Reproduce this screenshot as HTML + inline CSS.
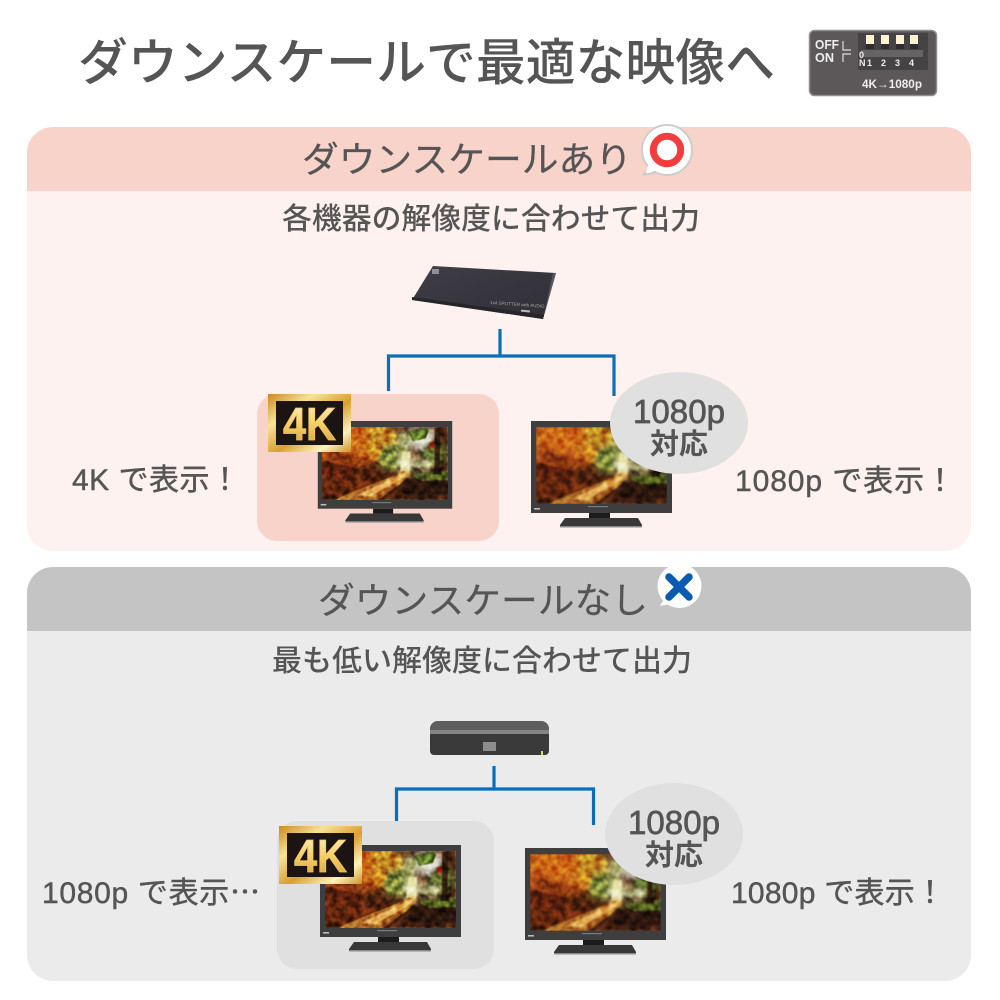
<!DOCTYPE html>
<html lang="ja"><head><meta charset="utf-8"><title>ダウンスケールで最適な映像へ</title>
<style>html,body{margin:0;padding:0;background:#fff}svg{display:block}
text{font-family:"Liberation Sans","Noto Sans CJK JP",sans-serif;fill:#555}
.j{font-family:"Liberation Sans","Noto Sans CJK JP",sans-serif;font-weight:500}
.h{font-family:"Liberation Sans","Noto Sans CJK JP",sans-serif;font-weight:400;stroke:#555;stroke-width:.25}
.s{font-family:"Liberation Sans","Noto Sans CJK JP",sans-serif;font-weight:400;stroke:#555;stroke-width:.45}
.n{font-family:"Liberation Sans",sans-serif;font-weight:400;stroke:#555;stroke-width:.7}
.d{font-family:"Liberation Sans","DejaVu Sans",sans-serif;font-weight:700;fill:#eee}</style></head><body>
<svg width="1000" height="1000" viewBox="0 0 1000 1000" xmlns="http://www.w3.org/2000/svg">
<defs>
<filter id="b2" x="-30%" y="-30%" width="160%" height="160%"><feGaussianBlur stdDeviation="3.500"/></filter>
<filter id="soft" x="0" y="0" width="100%" height="100%"><feGaussianBlur stdDeviation=".7"/></filter>
<filter id="tex" x="0" y="0" width="100%" height="100%" color-interpolation-filters="sRGB">
<feGaussianBlur in="SourceGraphic" stdDeviation=".6" result="s"/>
<feTurbulence type="fractalNoise" baseFrequency=".14" numOctaves="2" seed="7"/>
<feColorMatrix values="1.100 0 0 0 -.05  1.100 0 0 0 -.05  1.100 0 0 0 -.05  0 0 0 0 1" result="n"/>
<feBlend in="n" in2="s" mode="overlay"/>
</filter>
<linearGradient id="gold" x1="0" y1="0" x2="1" y2="1"><stop offset="0" stop-color="#c88a1e"/><stop offset=".28" stop-color="#f8e294"/><stop offset=".55" stop-color="#d9a030"/><stop offset=".8" stop-color="#fff2bb"/><stop offset="1" stop-color="#cc9228"/></linearGradient>
<linearGradient id="gold2" x1="0" y1="0" x2="0" y2="1"><stop offset="0" stop-color="#fff6cc"/><stop offset=".5" stop-color="#f6cf68"/><stop offset="1" stop-color="#d29a30"/></linearGradient>
<linearGradient id="sp" x1="0" y1="0" x2="1" y2="1"><stop offset="0" stop-color="#3f3d45"/><stop offset="1" stop-color="#312f36"/></linearGradient>
<clipPath id="fc"><rect width="131" height="77"/></clipPath>
<clipPath id="c2"><rect x="536" y="427" width="131" height="77"/></clipPath>
<clipPath id="c4"><rect x="530" y="854" width="131" height="77"/></clipPath>
<symbol id="forest" viewBox="0 0 131 77" preserveAspectRatio="none" overflow="hidden">
<g clip-path="url(#fc)"><g filter="url(#tex)">
<rect width="131" height="77" fill="#4a2210"/>
<g filter="url(#b2)">
<rect x="-10" y="-10" width="80" height="50" fill="#b04e14"/>
<ellipse cx="30" cy="10" rx="28" ry="14" fill="#cc6616"/>
<ellipse cx="62" cy="10" rx="16" ry="12" fill="#c08420"/>
<ellipse cx="72" cy="32" rx="15" ry="14" fill="#7e8a3a"/>
<ellipse cx="103" cy="12" rx="15" ry="11" fill="#f2f0e4"/>
<ellipse cx="86" cy="14" rx="8" ry="10" fill="#a4a868"/>
<ellipse cx="87" cy="36" rx="7" ry="13" fill="#e0dfa8"/>
<ellipse cx="116" cy="28" rx="14" ry="14" fill="#5f6e2a"/>
<ellipse cx="104" cy="40" rx="12" ry="6" fill="#b0b07a"/>
<ellipse cx="14" cy="44" rx="24" ry="12" fill="#5e2410"/>
<ellipse cx="30" cy="64" rx="36" ry="12" fill="#64260f"/>
<ellipse cx="108" cy="62" rx="30" ry="13" fill="#2a190b"/>
</g>
<path d="M14 77 C42 62 70 56 84 46 L94 46 C88 56 74 66 58 77Z" fill="#b06c26"/>
<path d="M36 72 C56 62 72 56 86 47 L91 47 C82 57 66 64 50 73Z" fill="#e4b058"/>
<path d="M81 47 L84 26 L92 26 L91 47Z" fill="#ece8b4" opacity=".85"/>
<path d="M92 50 L131 46 L131 56 L104 57Z" fill="#55621f"/>
<path d="M117 0h6l-.5 42 2 8h-9l1.500-8Z" fill="#2c1b0f"/>
<path d="M90 4 L112 0 L108 12 L94 15Z" fill="#5c7428"/>
<path d="M112 16 L118 14 L117 22 L111 24Z" fill="#a83a1a"/>
<path d="M38 16 L62 24 L56 36 L42 30Z" fill="#c77a1c"/>
<path d="M2 22 L28 30 L22 40 L4 36Z" fill="#8d3812"/>
</g></g>
</symbol>
<symbol id="tv" viewBox="0 0 141 107" overflow="visible">
<rect x="0" y="0" width="141" height="92" fill="#3e3e3e"/>
<rect x="57" y="85" width="20" height="1.200" fill="#7a7a7a"/>
<rect x="3" y="87" width="6" height="1.600" fill="#bbb"/>
<rect x="58" y="92" width="21" height="5" fill="#1c1c1c"/>
<path d="M34 97 H107 L111 104 V106 H29 V104Z" fill="#383838"/>
<rect x="29" y="105" width="82" height="1.500" fill="#8a8a8a"/>
</symbol>
<symbol id="badge" viewBox="0 0 83 58" overflow="visible">
<rect width="83" height="58" fill="url(#gold)"/>
<rect x="8" y="7" width="67" height="44" fill="#1c1412"/>
<text x="15" y="46" font-size="46" font-weight="700" textLength="53" lengthAdjust="spacingAndGlyphs" style="font-family:'Liberation Sans',sans-serif;fill:url(#gold2);stroke:#f2c862;stroke-width:.8">4K</text>
</symbol>
</defs>

<rect width="1000" height="1000" fill="#fff"/>
<text class="j" x="78" y="80" font-size="50" textLength="697" lengthAdjust="spacingAndGlyphs">ダウンスケールで最適な映像へ</text>

<!-- DIP switch -->
<rect x="809.500" y="30.500" width="127" height="65" rx="5" fill="#5c585a" stroke="#908d8e" stroke-width="1.500"/>
<rect x="858" y="33" width="70" height="37" fill="#454344"/>
<rect x="861" y="50" width="62" height="7" fill="#666465"/>
<g fill="#fff3cf"><rect x="866" y="35" width="8" height="9"/><rect x="881" y="35" width="8" height="9"/><rect x="896" y="35" width="8" height="9"/><rect x="910" y="35" width="8" height="9"/></g>
<g fill="#2e2c2d"><rect x="866" y="44" width="8" height="5"/><rect x="881" y="44" width="8" height="5"/><rect x="896" y="44" width="8" height="5"/><rect x="910" y="44" width="8" height="5"/></g>
<text class="d" x="815" y="49" font-size="12.500" textLength="24" lengthAdjust="spacingAndGlyphs">OFF</text>
<text class="d" x="815" y="62" font-size="12.500" textLength="19" lengthAdjust="spacingAndGlyphs">ON</text>
<path d="M843 41v9h8M851 54h-8v8" fill="none" stroke="#ddd" stroke-width="1.200"/>
<text class="d" x="859" y="58" font-size="9">0</text>
<text class="d" x="859" y="66" font-size="9">N</text>
<text class="d" x="867" y="66" font-size="9">1</text>
<text class="d" x="881" y="66" font-size="9">2</text>
<text class="d" x="895" y="66" font-size="9">3</text>
<text class="d" x="909" y="66" font-size="9">4</text>
<text class="d" x="862" y="88" font-size="12" textLength="60" lengthAdjust="spacingAndGlyphs">4K→1080p</text>

<!-- Top panel -->
<rect x="27" y="127" width="944" height="424" rx="26" fill="#fdf2ef"/>
<path d="M27 191V153a26 26 0 0 1 26-26H945a26 26 0 0 1 26 26V191Z" fill="#f8d3ca"/>
<text class="h" x="302" y="172" font-size="36" textLength="330" lengthAdjust="spacingAndGlyphs">ダウンスケールあり</text>
<path d="M650 168 L643 175 L658 172Z" fill="#fff" stroke="#cdcdcd" stroke-width="2" stroke-linejoin="round"/>
<circle cx="667" cy="150" r="25" fill="#fff" stroke="#cdcdcd" stroke-width="2"/>
<path d="M648 165 L646 173 L658 170Z" fill="#fff"/>
<circle cx="667" cy="150" r="13.700" fill="none" stroke="#f23d3d" stroke-width="7"/>
<text class="j" x="282" y="229" font-size="30" textLength="418" lengthAdjust="spacingAndGlyphs">各機器の解像度に合わせて出力</text>

<!-- splitter -->
<path d="M433 266 L556 273 L543 319 L412 300Z" fill="url(#sp)"/>
<path d="M412 297 L412 300 L543 319 L544 315Z" fill="#26252a"/>
<path d="M544 315 L553 273 L556 273 L543 319Z" fill="#5a585f"/>
<rect x="432" y="269" width="7" height="5" fill="#c8c8c8" opacity=".6"/>
<text x="490" y="304" font-size="4.500" transform="rotate(4 490 304)" style="fill:#aaa;font-family:'Liberation Sans',sans-serif">1x4 SPLITTER with AUDIO</text>
<rect x="521" y="310" width="9" height="2" fill="#bbb" transform="rotate(6 525 311)"/>

<!-- connectors top -->
<path d="M500 329V356M388.500 391V356H614V396" fill="none" stroke="#0a6ebd" stroke-width="3.200"/>

<rect x="257" y="394" width="242" height="147" rx="20" fill="#f8d3ca"/>
<use href="#tv" x="317" y="421" width="136" height="102"/>
<use href="#forest" x="322" y="427" width="126" height="73"/>
<use href="#badge" x="268" y="394" width="83" height="58"/>

<use href="#tv" x="531" y="421" width="141" height="107"/>
<g clip-path="url(#c2)"><use href="#forest" x="536" y="427" width="131" height="77" filter="url(#soft)"/></g>
<ellipse cx="679" cy="423" rx="69" ry="51" fill="#e0e0e0"/>
<text class="n" x="633" y="423" font-size="33" textLength="92" lengthAdjust="spacingAndGlyphs">1080p</text>
<text class="j" x="650" y="454" font-size="29" textLength="58" lengthAdjust="spacingAndGlyphs" style="font-weight:700">対応</text>
<text class="s" x="72" y="490" font-size="30" textLength="168" lengthAdjust="spacing">4K で表示！</text>
<text class="s" x="735" y="491" font-size="30" textLength="220" lengthAdjust="spacing">1080p で表示！</text>

<!-- Bottom panel -->
<rect x="27" y="567" width="944" height="414" rx="26" fill="#ebebeb"/>
<path d="M27 631V593a26 26 0 0 1 26-26H945a26 26 0 0 1 26 26V631Z" fill="#c4c4c4"/>
<text class="h" x="318" y="613" font-size="36" textLength="330" lengthAdjust="spacingAndGlyphs">ダウンスケールなし</text>
<circle cx="679.500" cy="586" r="22" fill="#fff"/>
<path d="M663 601 L660 606 L670 604Z" fill="#fff"/>
<path d="M669 577 L689 597M689 577 L669 597" stroke="#0b5cb0" stroke-width="7.500" stroke-linecap="round"/>
<text class="j" x="272" y="671" font-size="30" textLength="420" lengthAdjust="spacingAndGlyphs">最も低い解像度に合わせて出力</text>

<!-- box device -->
<path d="M430 729 a8 8 0 0 1 8-8 H541 a8 8 0 0 1 8 8 V751 a4 4 0 0 1-4 4 H434 a4 4 0 0 1-4-4Z" fill="#3a3a3a"/>
<path d="M430 730 V729 a8 8 0 0 1 8-8 H541 a8 8 0 0 1 8 8 V730Z" fill="#5e5e5e"/>
<rect x="430" y="730" width="119" height="4" fill="#858585"/>
<rect x="483" y="742" width="13" height="9" fill="#8c8c8c"/>
<rect x="541" y="751" width="2" height="4" fill="#d8d860"/>

<path d="M494 766V789M396.500 821V789H593.500V825" fill="none" stroke="#0a6ebd" stroke-width="3.200"/>

<rect x="277" y="821" width="217" height="148" rx="20" fill="#e0e0e0"/>
<use href="#tv" x="320" y="845" width="141" height="107"/>
<use href="#forest" x="325" y="851" width="131" height="77"/>
<use href="#badge" x="279" y="826" width="83" height="58"/>

<use href="#tv" x="525" y="848" width="141" height="107"/>
<g clip-path="url(#c4)"><use href="#forest" x="530" y="854" width="131" height="77" filter="url(#soft)"/></g>
<ellipse cx="674" cy="834" rx="69" ry="51" fill="#e0e0e0"/>
<text class="n" x="628" y="834" font-size="33" textLength="92" lengthAdjust="spacingAndGlyphs">1080p</text>
<text class="j" x="645" y="865" font-size="29" textLength="58" lengthAdjust="spacingAndGlyphs" style="font-weight:700">対応</text>
<text class="s" x="42" y="903" font-size="30" textLength="218" lengthAdjust="spacing">1080p で表示<tspan style="font-family:'Noto Sans CJK JP',sans-serif">…</tspan></text>
<text class="s" x="731" y="903" font-size="30" textLength="214" lengthAdjust="spacing">1080p で表示！</text>
</svg>
</body></html>
